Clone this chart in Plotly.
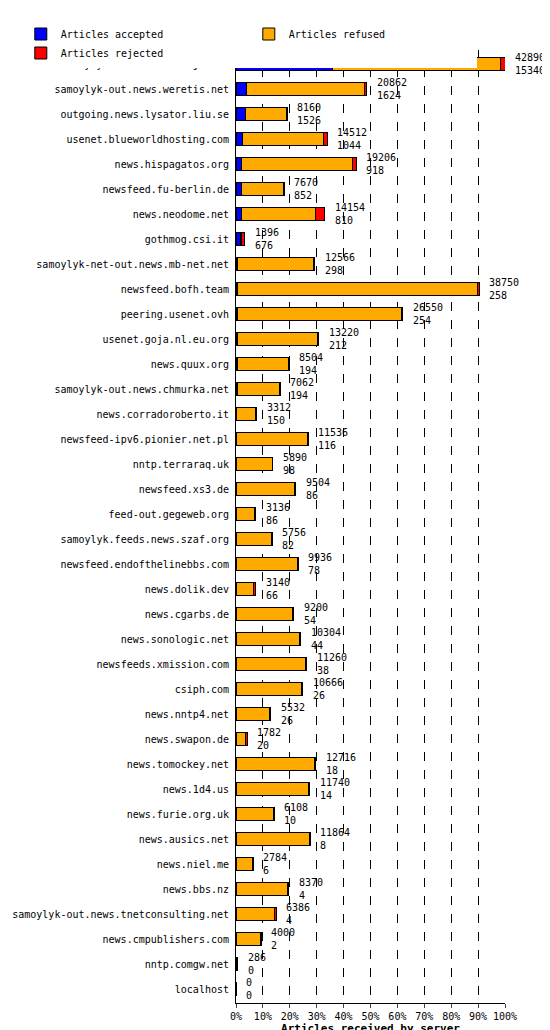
import plotly.graph_objects as go

servers = ["samoylyk-out.feeder.erje.net","samoylyk-out.news.weretis.net","outgoing.news.lysator.liu.se",
"usenet.blueworldhosting.com","news.hispagatos.org","newsfeed.fu-berlin.de","news.neodome.net","gothmog.csi.it",
"samoylyk-net-out.news.mb-net.net","newsfeed.bofh.team","peering.usenet.ovh","usenet.goja.nl.eu.org","news.quux.org",
"samoylyk-out.news.chmurka.net","news.corradoroberto.it","newsfeed-ipv6.pionier.net.pl","nntp.terraraq.uk",
"newsfeed.xs3.de","feed-out.gegeweb.org","samoylyk.feeds.news.szaf.org","newsfeed.endofthelinebbs.com","news.dolik.dev",
"news.cgarbs.de","news.sonologic.net","newsfeeds.xmission.com","csiph.com","news.nntp4.net","news.swapon.de",
"news.tomockey.net","news.1d4.us","news.furie.org.uk","news.ausics.net","news.niel.me","news.bbs.nz",
"samoylyk-out.news.tnetconsulting.net","news.cmpublishers.com","nntp.comgw.net","localhost"]
offered = [42890,20862,8160,14512,19206,7670,14154,1396,12566,38750,26550,13220,8504,7062,3312,11536,5890,9504,3136,5756,
9936,3140,9200,10304,11260,10666,5532,1782,12716,11740,6108,11864,2784,8370,6386,4000,286,0]
accepted = [15340,1624,1526,1044,918,852,810,676,298,258,254,212,194,194,150,116,98,86,86,82,78,66,54,44,38,26,26,20,18,14,10,8,6,4,4,2,0,0]
rejected = [700,300,150,600,600,100,1400,500,200,200,200,200,150,150,200,200,0,200,200,100,200,300,200,200,200,200,200,300,200,200,200,200,200,200,200,100,286,0]

mx = max(offered)
acc_p = [a/mx*100 for a in accepted]
rej_p = [r/mx*100 for r in rejected]
ref_p = [(o-a-r)/mx*100 for o,a,r in zip(offered,accepted,rejected)]

fig = go.Figure()
line = dict(color="black", width=1)
fig.add_bar(y=servers, x=acc_p, orientation="h", name="Articles accepted", marker=dict(color="#0000ff", line=line))
fig.add_bar(y=servers, x=ref_p, orientation="h", name="Articles refused", marker=dict(color="#ffaa00", line=line))
fig.add_bar(y=servers, x=rej_p, orientation="h", name="Articles rejected", marker=dict(color="#ff0000", line=line))

for s,o,a in zip(servers,offered,accepted):
    fig.add_annotation(x=o/mx*100, y=s, text=f"{o}<br>{a}", xanchor="left", xshift=8, showarrow=False,
                       align="left", font=dict(size=10, family="DejaVu Sans Mono", color="black"))

fig.update_layout(
    barmode="stack", bargap=0.45, width=550, height=1030,
    margin=dict(l=225, r=53, t=37, b=35),
    paper_bgcolor="white", plot_bgcolor="white",
    font=dict(family="DejaVu Sans Mono", size=10, color="black"),
    legend=dict(orientation="h", x=-0.80, y=1.032, xanchor="left", yanchor="top", font=dict(size=10),
                traceorder="normal", entrywidth=183, entrywidthmode="pixels", itemwidth=30),
    xaxis=dict(range=[0,100], tickvals=list(range(0,101,10)), ticktext=[f"{v}%" for v in range(0,101,10)],
               showgrid=True, gridcolor="black", griddash="dash", gridwidth=1, showline=True, linecolor="black",
               ticks="outside", ticklen=4, automargin=False,
               title=dict(text="<b>Articles received by server</b>", standoff=2, font=dict(size=11))),
    yaxis=dict(autorange="reversed", showline=True, linecolor="black", ticks="", ticklabelstandoff=4,
               automargin=False, tickfont=dict(size=10)),
)
fig.write_html("out.html")
